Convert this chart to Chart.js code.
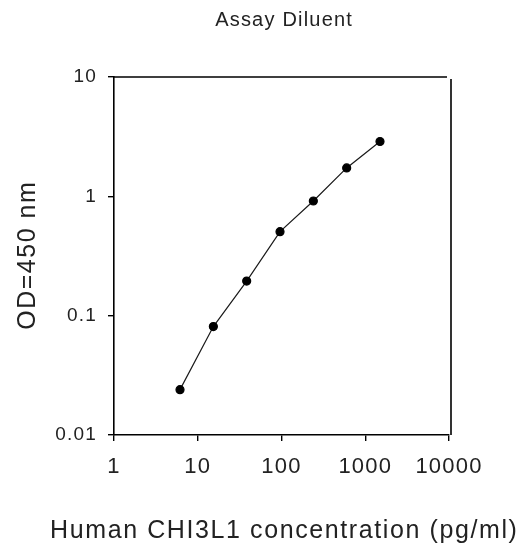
<!DOCTYPE html>
<html>
<head>
<meta charset="utf-8">
<script src="https://cdn.jsdelivr.net/npm/chart.js@4/dist/chart.umd.min.js"></script>
<style>
  html, body { margin: 0; padding: 0; background: #ffffff; }
  #wrap { width: 522px; height: 546px; }
</style>
</head>
<body>
<div id="wrap"><canvas id="c" width="522" height="546"></canvas></div>
<script>
// ---- data ----
const titleText = "Assay Diluent";
const xAxisTitle = "Human CHI3L1 concentration (pg/ml)";
const yAxisTitle = "OD=450 nm";
const concentrations = [6.14, 15.36, 38.4, 96, 240, 600, 1500];
const odValues = [0.024, 0.081, 0.195, 0.506, 0.914, 1.73, 2.88];
const xTickValues = [1, 10, 100, 1000, 10000];
const yTickValues = [0.01, 0.1, 1, 10];

const FONT = "'Liberation Sans', Arial, sans-serif";
const TEXT = "#222222";

const points = concentrations.map((x, i) => ({ x: x, y: odValues[i] }));

function drawSpacedText(ctx, text, x, y, font, spacing, align, baseline, rotation) {
  ctx.save();
  ctx.font = font;
  ctx.letterSpacing = spacing + 'px';
  ctx.fillStyle = TEXT;
  ctx.textBaseline = baseline;
  ctx.translate(x, y);
  if (rotation) ctx.rotate(rotation);
  const w = ctx.measureText(text).width - spacing;
  let start = 0;
  if (align === 'center') start = -w / 2;
  else if (align === 'right') start = -w;
  ctx.textAlign = 'left';
  ctx.fillText(text, start, 0);
  ctx.restore();
}

const framePlugin = {
  id: 'frame',
  beforeDraw(chart) {
    chart.ctx.letterSpacing = '1.2px';
  },
  afterDraw(chart) {
    const { ctx, chartArea } = chart;
    ctx.save();
    ctx.letterSpacing = '0px';
    ctx.strokeStyle = '#000';
    ctx.lineWidth = 1.6;
    ctx.beginPath();
    ctx.moveTo(chartArea.left, chartArea.top);
    ctx.lineTo(chartArea.right - 2, chartArea.top);
    ctx.moveTo(chartArea.right + 2, chartArea.top + 2);
    ctx.lineTo(chartArea.right + 2, chartArea.bottom);
    ctx.stroke();
    ctx.restore();
    const cx = (chartArea.left + chartArea.right) / 2;
    const cy = (chartArea.top + chartArea.bottom) / 2;
    drawSpacedText(ctx, titleText, cx + 2, 26, "20px " + FONT, 1.2, 'center', 'alphabetic', 0);
    drawSpacedText(ctx, xAxisTitle, cx + 2, 538, "25px " + FONT, 1.6, 'center', 'alphabetic', 0);
    drawSpacedText(ctx, yAxisTitle, 35, cy, "25px " + FONT, 1.5, 'center', 'alphabetic', -Math.PI / 2);
  }
};

new Chart(document.getElementById('c'), {
  type: 'line',
  data: {
    datasets: [{
      data: points,
      borderColor: '#1a1a1a',
      borderWidth: 1.2,
      backgroundColor: '#000',
      pointBackgroundColor: '#000',
      pointBorderColor: '#000',
      pointRadius: 4,
      pointStyle: 'circle',
      tension: 0,
      fill: false
    }]
  },
  options: {
    responsive: false,
    animation: false,
    devicePixelRatio: 1,
    layout: { padding: { top: 77, right: 73, bottom: 0, left: 0 } },
    plugins: { legend: { display: false }, tooltip: { enabled: false }, title: { display: false } },
    scales: {
      x: {
        type: 'logarithmic',
        min: xTickValues[0],
        max: xTickValues[xTickValues.length - 1],
        afterBuildTicks(scale) { scale.ticks = xTickValues.map(v => ({ value: v })); },
        afterFit(scale) { scale.height = 111; },
        grid: { drawOnChartArea: false, drawTicks: true, tickLength: 6, color: '#000', lineWidth: 1.4 },
        border: { display: true, color: '#000', width: 1.6 },
        ticks: {
          autoSkip: false, maxRotation: 0, padding: 13, color: TEXT,
          font: { family: FONT, size: 22 },
          callback: (v) => String(v)
        },
        title: { display: false }
      },
      y: {
        type: 'logarithmic',
        min: yTickValues[0],
        max: yTickValues[yTickValues.length - 1],
        afterBuildTicks(scale) { scale.ticks = yTickValues.map(v => ({ value: v })); },
        afterFit(scale) { scale.width = 114; },
        grid: { drawOnChartArea: false, drawTicks: true, tickLength: 6, color: '#000', lineWidth: 1.4 },
        border: { display: true, color: '#000', width: 1.6 },
        ticks: {
          autoSkip: false, padding: 11, color: TEXT,
          font: { family: FONT, size: 19 },
          callback: (v) => String(v)
        },
        title: { display: false }
      }
    }
  },
  plugins: [framePlugin]
});
</script>
</body>
</html>
